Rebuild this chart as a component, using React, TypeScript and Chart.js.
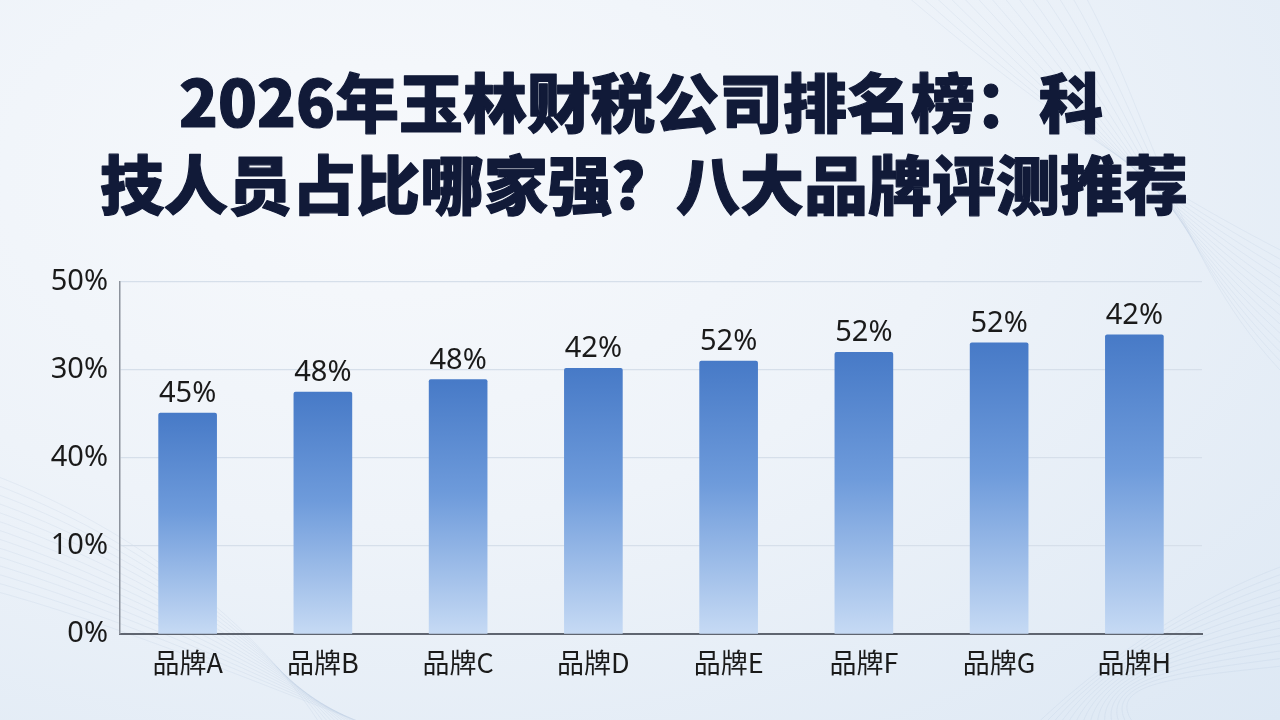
import { useEffect, useRef } from "react";
import { Chart, registerables, type ChartConfiguration, type Plugin } from "chart.js";

Chart.register(...registerables);

// data
const brands = ["品牌A", "品牌B", "品牌C", "品牌D", "品牌E", "品牌F", "品牌G", "品牌H"];
// bar heights, in grid steps (the axis has 4 equal steps)
const barHeights = [2.51, 2.75, 2.89, 3.02, 3.1, 3.2, 3.31, 3.4];
// printed value above each bar
const barLabels = ["45%", "48%", "48%", "42%", "52%", "52%", "52%", "42%"];
// y tick labels, bottom to top, as printed
const yTickLabels = ["0%", "10%", "40%", "30%", "50%"];
const titleLines = ["2026年玉林财税公司排名榜：科", "技人员占比哪家强？八大品牌评测推荐"];

const LATIN = '"Noto Sans", "Noto Sans CJK SC", sans-serif';
const CJK = '"Noto Sans CJK SC", "Noto Sans", sans-serif';

const App = () => {
    const chartRef = useRef<HTMLCanvasElement>(null);
    const chartInstanceRef = useRef<Chart | null>(null);

    useEffect(() => {
        if (!chartRef.current) return;

        // faint swooping lines in the corners of the backdrop
        const backdropPlugin: Plugin<"bar"> = {
            id: "backdrop",
            beforeDraw: (chart) => {
                const { ctx } = chart;
                ctx.save();
                ctx.lineWidth = 0.8;
                for (let i = 0; i < 14; i++) {
                    ctx.strokeStyle = "rgba(150, 175, 205, 0.16)";
                    ctx.beginPath();
                    ctx.moveTo(-20, 470 + i * 9);
                    ctx.bezierCurveTo(120, 520 + i * 8, 260, 620 + i * 5, 330 + i * 6, 740);
                    ctx.stroke();
                    ctx.beginPath();
                    ctx.moveTo(900 + i * 14, -10);
                    ctx.bezierCurveTo(1050 + i * 8, 120, 1180, 200 + i * 6, 1300, 260 + i * 10);
                    ctx.stroke();
                    ctx.beginPath();
                    ctx.moveTo(1300, 560 + i * 8);
                    ctx.bezierCurveTo(1180, 600 + i * 6, 1080, 680, 1020 + i * 10, 740);
                    ctx.stroke();
                }
                ctx.restore();
            },
        };

        // headline drawn at the top of the canvas
        const headlinePlugin: Plugin<"bar"> = {
            id: "headline",
            afterDraw: (chart) => {
                const { ctx } = chart;
                ctx.save();
                ctx.fillStyle = "#111a38";
                ctx.strokeStyle = "#111a38";
                ctx.lineWidth = 1.2;
                ctx.lineJoin = "round";
                ctx.font = `900 64px ${CJK}`;
                ctx.textAlign = "center";
                ctx.textBaseline = "middle";
                ctx.fillText(titleLines[0], 641, 103);
                ctx.strokeText(titleLines[0], 641, 103);
                ctx.fillText(titleLines[1], 644, 185);
                ctx.strokeText(titleLines[1], 644, 185);
                ctx.restore();
            },
        };

        // printed value over each bar
        const valuePlugin: Plugin<"bar"> = {
            id: "barValues",
            afterDatasetsDraw: (chart) => {
                const { ctx } = chart;
                ctx.save();
                ctx.fillStyle = "#1a1a1a";
                ctx.font = `29px ${LATIN}`;
                ctx.textAlign = "center";
                ctx.textBaseline = "alphabetic";
                chart.getDatasetMeta(0).data.forEach((bar, i) => {
                    const { x, y } = bar.getProps(["x", "y"], true) as { x: number; y: number };
                    ctx.fillText(barLabels[i], x, y - 11);
                });
                ctx.restore();
            },
        };

        const config: ChartConfiguration<"bar"> = {
            type: "bar",
            data: {
                labels: brands,
                datasets: [
                    {
                        data: barHeights,
                        backgroundColor: (context) => {
                            const chart = context.chart;
                            const area = chart.chartArea;
                            if (!area) return "#5b8bd0";
                            const v = (context.raw as number) ?? 0;
                            const top = chart.scales.y.getPixelForValue(v);
                            const g = chart.ctx.createLinearGradient(0, top, 0, area.bottom);
                            g.addColorStop(0, "#477ac7");
                            g.addColorStop(0.45, "#6e9bdb");
                            g.addColorStop(1, "#c6daf4");
                            return g;
                        },
                        borderRadius: 2,
                        borderSkipped: "bottom",
                        barThickness: 58,
                    },
                ],
            },
            options: {
                responsive: false,
                animation: false,
                layout: {
                    padding: { top: 282, right: 78, left: 0, bottom: 0 },
                },
                plugins: {
                    legend: { display: false },
                    tooltip: { enabled: false },
                    title: { display: false },
                },
                scales: {
                    x: {
                        grid: { display: false, drawTicks: false },
                        border: { display: true, color: "#5f6570", width: 2 },
                        ticks: {
                            color: "#1a1a1a",
                            font: { family: CJK, size: 27 },
                            padding: 13,
                        },
                        afterFit: (scale) => {
                            scale.height = 86;
                        },
                    },
                    y: {
                        min: 0,
                        max: 4,
                        ticks: {
                            stepSize: 1,
                            color: "#1a1a1a",
                            font: { family: LATIN, size: 29 },
                            padding: 12,
                            callback: (value) => yTickLabels[Number(value)] ?? "",
                        },
                        grid: { color: "#d6dfea", lineWidth: 1.2, drawTicks: false },
                        border: { display: true, color: "#8c929c", width: 1.5 },
                        afterFit: (scale) => {
                            scale.width = 120;
                        },
                    },
                },
            },
            plugins: [backdropPlugin, headlinePlugin, valuePlugin],
        };

        chartInstanceRef.current = new Chart(chartRef.current, config);

        return () => {
            chartInstanceRef.current?.destroy();
        };
    }, []);

    return (
        <div
            style={{
                position: "fixed",
                left: 0,
                top: 0,
                width: "1280px",
                height: "720px",
                background:
                    "radial-gradient(ellipse at 30% 25%, #f7f9fc 0%, #eef3f9 45%, #dde8f4 100%)",
            }}
        >
            <canvas ref={chartRef} width={1280} height={720} style={{ width: "1280px", height: "720px" }} />
        </div>
    );
};

export default App;
